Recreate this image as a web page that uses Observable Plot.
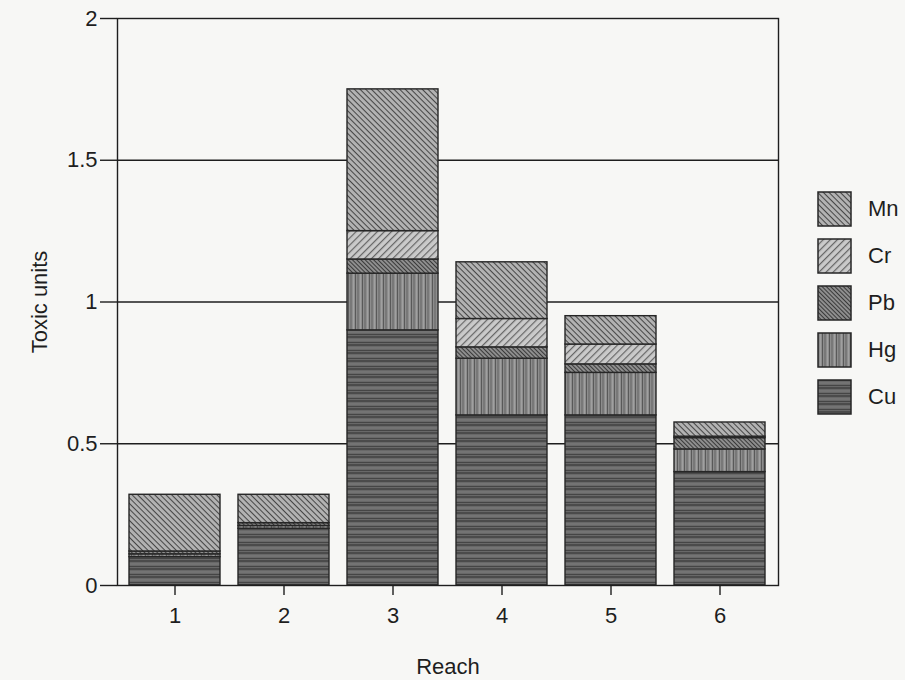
<!DOCTYPE html>
<html>
<head>
<meta charset="utf-8">
<script src="https://cdn.jsdelivr.net/npm/d3@7"></script>
<script src="https://cdn.jsdelivr.net/npm/@observablehq/plot@0.6"></script>
<style>
  html, body { margin: 0; padding: 0; background: #f7f7f5; }
  #wrap { position: relative; width: 905px; height: 680px; font-family: "Liberation Sans", Arial, sans-serif; }
  #chart svg text { font-size: 22px; fill: #1e1e1e; }
  #legend { position: absolute; left: 817px; top: 185px; }
  .item { display: flex; align-items: center; height: 47px; }
  .item svg { display: block; }
  .item span { margin-left: 16px; font-size: 22px; color: #1e1e1e; }
</style>
</head>
<body>
<svg width="0" height="0" style="position:absolute">
  <defs>
    <pattern id="p-Mn" patternUnits="userSpaceOnUse" width="4" height="4" patternTransform="rotate(45)">
      <rect width="4" height="4" fill="#b3b3b3"/>
      <line x1="0" y1="0.5" x2="4" y2="0.5" stroke="#474747" stroke-width="1.1"/>
    </pattern>
    <pattern id="p-Cr" patternUnits="userSpaceOnUse" width="5" height="5" patternTransform="rotate(-45)">
      <rect width="5" height="5" fill="#cacaca"/>
      <line x1="0" y1="0.6" x2="5" y2="0.6" stroke="#666" stroke-width="1.2"/>
    </pattern>
    <pattern id="p-Pb" patternUnits="userSpaceOnUse" width="3" height="3" patternTransform="rotate(45)">
      <rect width="3" height="3" fill="#8e8e8e"/>
      <line x1="0" y1="0.5" x2="3" y2="0.5" stroke="#3a3a3a" stroke-width="1"/>
    </pattern>
    <pattern id="p-Hg" patternUnits="userSpaceOnUse" width="7" height="7">
      <rect width="7" height="7" fill="#8d8d8d"/>
      <line x1="1" y1="0" x2="1" y2="7" stroke="#636363" stroke-width="1"/>
      <line x1="3.5" y1="0" x2="3.5" y2="7" stroke="#a5a5a5" stroke-width="0.8"/>
      <line x1="5.5" y1="0" x2="5.5" y2="7" stroke="#595959" stroke-width="1"/>
    </pattern>
    <pattern id="p-Cu" patternUnits="userSpaceOnUse" width="8" height="8">
      <rect width="8" height="8" fill="#686868"/>
      <line x1="0" y1="1" x2="8" y2="1" stroke="#383838" stroke-width="1.2"/>
      <line x1="0" y1="4" x2="8" y2="4" stroke="#858585" stroke-width="0.8"/>
      <line x1="0" y1="6.5" x2="8" y2="6.5" stroke="#454545" stroke-width="1"/>
    </pattern>
  </defs>
</svg>
<div id="wrap">
  <div id="chart"></div>
  <div id="legend"></div>
</div>
<script>
const reaches = [1, 2, 3, 4, 5, 6];
// stacked from bottom to top
const metals = ["Cu", "Hg", "Pb", "Cr", "Mn"];
const Cu = [0.10, 0.20, 0.90, 0.60, 0.60, 0.40];
const Hg = [0.01, 0.01, 0.20, 0.20, 0.15, 0.08];
const Pb = [0.01, 0.01, 0.05, 0.04, 0.03, 0.04];
const Cr = [0.00, 0.00, 0.10, 0.10, 0.07, 0.005];
const Mn = [0.20, 0.10, 0.50, 0.20, 0.10, 0.05];
const yTicks = [0, 0.5, 1, 1.5, 2];
const yTickLabels = ["0", "0.5", "1", "1.5", "2"];
const legendOrder = ["Mn", "Cr", "Pb", "Hg", "Cu"];

const series = {Cu, Hg, Pb, Cr, Mn};
const rows = [];
for (const m of metals) {
  reaches.forEach((r, i) => {
    if (series[m][i] > 0) rows.push({reach: r, metal: m, value: series[m][i]});
  });
}
const fills = metals.map(m => `url(#p-${m})`);

const chart = Plot.plot({
  width: 905,
  height: 680,
  marginLeft: 117,
  marginRight: 127,
  marginTop: 18,
  marginBottom: 95,
  style: {background: "transparent", fontFamily: "'Liberation Sans', Arial, sans-serif", fontSize: "22px", color: "#1e1e1e"},
  x: {domain: reaches, paddingInner: 0.164, paddingOuter: 0.09},
  y: {domain: [0, 2]},
  color: {domain: metals, range: fills},
  marks: [
    Plot.gridY(yTicks.slice(1, 4), {stroke: "#1e1e1e", strokeOpacity: 1, strokeWidth: 1.4}),
    Plot.barY(rows, Plot.stackY({x: "reach", y: "value", fill: "metal", order: metals, stroke: "#262626", strokeWidth: 1.4})),
    Plot.frame({stroke: "#1e1e1e", strokeWidth: 1.4}),
    Plot.axisY({ticks: yTicks, tickFormat: (d) => yTickLabels[yTicks.indexOf(d)], tickSize: 17, tickPadding: 3, strokeWidth: 1.4,
      label: "Toxic units", labelAnchor: "center", labelOffset: 86, labelArrow: false}),
    Plot.axisX({tickSize: 10, tickPadding: 12, strokeWidth: 1.4,
      label: "Reach", labelAnchor: "center", labelOffset: 88, labelArrow: false})
  ]
});
document.getElementById("chart").appendChild(chart);

const legend = document.getElementById("legend");
for (const m of legendOrder) {
  const div = document.createElement("div");
  div.className = "item";
  div.innerHTML = `<svg width="35" height="36"><rect x="1" y="1" width="33" height="34" fill="url(#p-${m})" stroke="#262626" stroke-width="1.5"/></svg><span>${m}</span>`;
  legend.appendChild(div);
}
</script>
</body>
</html>
